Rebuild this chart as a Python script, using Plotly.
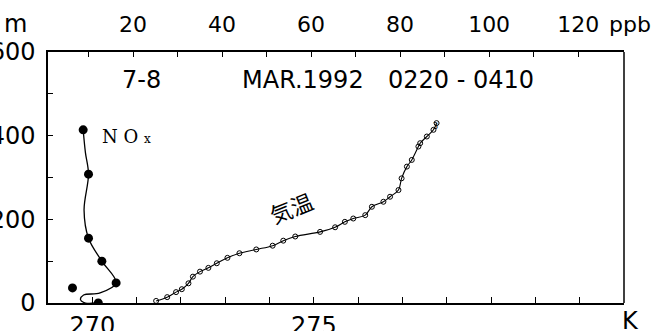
import plotly.graph_objects as go

# ---- data ----
temp_K = [271.44, 271.69, 271.89, 272.02, 272.17, 272.27, 272.43, 272.62, 272.81,
          273.05, 273.32, 273.70, 274.07, 274.31, 274.58, 275.14, 275.48, 275.70,
          275.89, 276.16, 276.31, 276.57, 276.72, 276.91, 276.98, 277.10, 277.21,
          277.36, 277.40, 277.55, 277.70, 277.77]
temp_m = [5, 14, 26, 33, 47, 63, 75, 84, 95, 108, 119, 128, 137, 149, 159, 170,
          181, 194, 202, 210, 230, 242, 254, 270, 298, 326, 342, 374, 382, 398, 414, 430]

nox_ppb = [8.8, 10.0, 10.0, 13.0, 16.2, 6.4, 12.2]
nox_m = [414, 308, 155, 100, 48, 36, 0]

# hand-smoothed NOx profile curve
nox_curve_ppb = [8.8, 9.3, 10.0, 9.0, 10.0, 13.0, 16.2, 12.6, 8.9, 8.2, 9.3, 11.6]
nox_curve_m = [414, 360, 308, 222, 155, 100, 48, 24, 19, 8, 0, 0]

k_ticks = list(range(270, 282))
k_labels = ["270" if v == 270 else "275" if v == 275 else "" for v in k_ticks]
ppb_ticks = list(range(10, 130, 10))
ppb_labels = [str(v) if v % 20 == 0 else "" for v in ppb_ticks]
m_ticks = list(range(0, 601, 100))
m_labels = [str(v) if v % 200 == 0 else "" for v in m_ticks]

W, H = 657, 331
L, R, T, B = 48, 624, 52, 303

def px(x):
    return (x - L) / (R - L)

def py(y):
    return (B - y) / (B - T)

fig = go.Figure()
fig.add_trace(go.Scatter(x=temp_K, y=temp_m, mode="lines+markers",
                         line=dict(color="black", width=1.1, shape="spline"),
                         marker=dict(symbol="circle-open", size=5, color="black",
                                     line=dict(width=1)),
                         xaxis="x", yaxis="y", showlegend=False))
fig.add_trace(go.Scatter(x=nox_curve_ppb, y=nox_curve_m, mode="lines",
                         line=dict(color="black", width=1.3, shape="spline", smoothing=1.0),
                         xaxis="x2", yaxis="y", showlegend=False))
fig.add_trace(go.Scatter(x=nox_ppb, y=nox_m, mode="markers",
                         marker=dict(symbol="circle", size=9, color="black"),
                         xaxis="x2", yaxis="y", showlegend=False))

font = "DejaVu Sans"
fig.update_layout(
    width=W, height=H,
    margin=dict(l=L, r=W - R, t=T, b=H - B, autoexpand=False),
    paper_bgcolor="white", plot_bgcolor="rgba(0,0,0,0)",
    font=dict(family=font, color="black"),
    xaxis=dict(range=[269, 282], tickmode="array", tickvals=k_ticks, ticktext=k_labels,
               ticks="inside", ticklen=6, tickwidth=1.3, tickcolor="black",
               showline=True, linecolor="black", linewidth=1.5, mirror=False,
               showgrid=False, zeroline=False, tickfont=dict(size=24, family=font),
               automargin=False),
    xaxis2=dict(range=[0.9, 130.3], overlaying="x", side="top", anchor="y",
                tickmode="array", tickvals=ppb_ticks, ticktext=ppb_labels,
                ticks="inside", ticklen=5, tickwidth=1.3, tickcolor="black",
                showline=True, linecolor="black", linewidth=1.5,
                showgrid=False, zeroline=False, tickfont=dict(size=22, family=font),
                ticklabelstandoff=9, automargin=False),
    yaxis=dict(range=[0, 600], tickmode="array", tickvals=m_ticks, ticktext=m_labels,
               ticks="inside", ticklen=5, tickwidth=1.3, tickcolor="black",
               showline=True, linecolor="black", linewidth=1.5, mirror=False,
               showgrid=False, zeroline=False, tickfont=dict(size=24, family=font),
               ticklabelstandoff=6, automargin=False),
    shapes=[dict(type="line", xref="paper", yref="paper", x0=1, x1=1, y0=0, y1=1,
                 line=dict(color="black", width=1.5))],
)

ann = [
    dict(text="m", x=px(15), y=py(24)),
    dict(text="K", x=px(630), y=py(321)),
    dict(text="ppb", x=px(630), y=py(24), size=22),
    dict(text="7-8", x=px(141), y=py(80), size=24),
    dict(text="MAR.1992", x=px(303), y=py(80), size=24),
    dict(text="0220 - 0410", x=px(461), y=py(80), size=24),
]
for a in ann:
    fig.add_annotation(text=a["text"], x=a["x"], y=a["y"], xref="paper", yref="paper",
                       showarrow=False, xanchor="center", yanchor="middle",
                       font=dict(size=a.get("size", 24), family=font, color="black"))

fig.add_annotation(text="N O <span style='font-size:12px'>x</span>", x=px(100), y=py(136),
                   xref="paper", yref="paper", showarrow=False, xanchor="left", yanchor="middle",
                   font=dict(size=18, family="DejaVu Serif", color="black"))
fig.add_annotation(text="気温", x=px(291), y=py(207), xref="paper", yref="paper",
                   showarrow=False, textangle=-22,
                   font=dict(size=22, family="Noto Sans CJK JP", color="black"))
fig.add_annotation(text="3", x=px(440), y=py(120), xref="paper", yref="paper",
                   showarrow=False, font=dict(size=8, family=font, color="black"))

fig.write_html("out.html", config={"displayModeBar": False},
               post_script="document.body.style.margin='0';document.body.style.overflow='hidden';")
